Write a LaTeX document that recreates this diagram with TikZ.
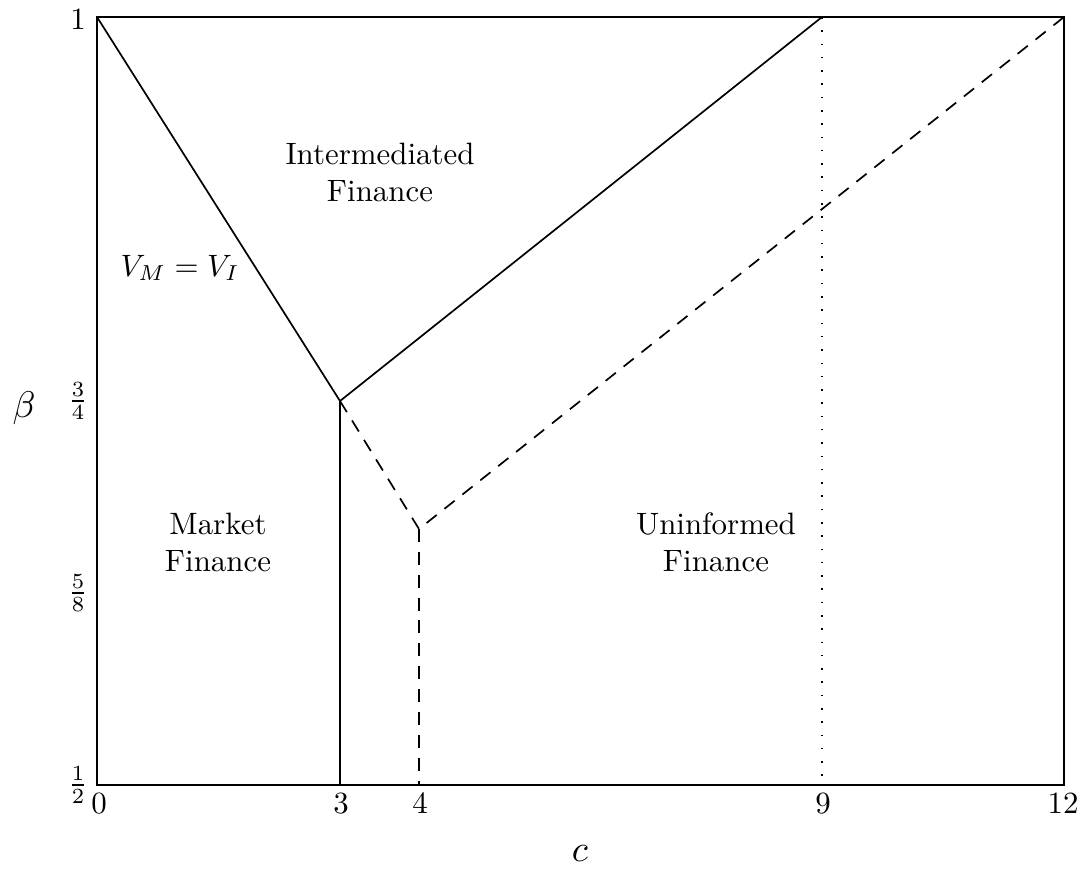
\documentclass[tikz,border=0pt]{standalone}
\begin{document}
\begin{tikzpicture}[x=0.3236pt,y=-0.3236pt,
  ln/.style={line width=0.55pt},
  dsh/.style={line width=0.55pt,dash pattern=on 4.2pt off 3.2pt},
  dtt/.style={line width=0.55pt,dash pattern=on 0.5pt off 3.8pt},
  lbl/.style={inner sep=0pt,align=center}]
\useasboundingbox (0,0) rectangle (1089,879);
% corners and key points
\coordinate (bl) at (97,785);
\coordinate (tr) at (1064,17);
\coordinate (p01) at (97,17);
\coordinate (k3) at (340,401);
\coordinate (b3) at (340,785);
\coordinate (k4) at (419,529);
\coordinate (b4) at (419,785);
\coordinate (t9) at (822,17);
\coordinate (b9) at (822,785);
\coordinate (t12) at (1064,17);
\draw[ln] (bl) rectangle (tr);
\draw[ln] (p01) -- (k3) -- (t9);
\draw[ln] (k3) -- (b3);
\draw[dsh] (k3) -- (k4) -- (t12);
\draw[dsh] (k4) -- (b4);
\draw[dtt] (t9) -- (b9);
% tick labels
\node[lbl] (y1) at (78,20) {$1$};
\node[lbl] (y34) at (78,401) {$\frac{3}{4}$};
\node[lbl] (y58) at (78,593) {$\frac{5}{8}$};
\node[lbl] (y12) at (78,785) {$\frac{1}{2}$};
\node[lbl] (x0) at (99,804) {$0$};
\node[lbl] (x3) at (341,804) {$3$};
\node[lbl] (x4) at (420,804) {$4$};
\node[lbl] (x9) at (823,804) {$9$};
\node[lbl] (x12) at (1063,804) {$12$};
\node[lbl,scale=1.2] (beta) at (24,408) {$\beta$};
\node[lbl,scale=1.2] (cc) at (580,854) {$c$};
% region labels
\node[lbl] (inter) at (380,172) {Intermediated\\Finance};
\node[lbl] (vmvi) at (180,268) {$V_M=V_I$};
\node[lbl] (market) at (218,542) {Market\\Finance};
\node[lbl] (unin) at (716,542) {Uninformed\\Finance};
\end{tikzpicture}
\end{document}
